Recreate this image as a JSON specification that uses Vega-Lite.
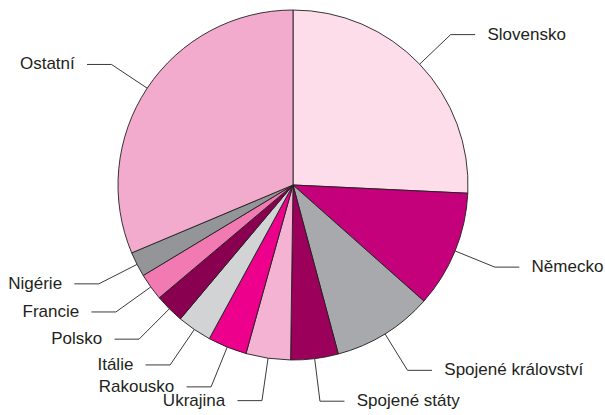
{
  "$schema": "https://vega.github.io/schema/vega-lite/v6.json",
  "width": 586,
  "height": 370,
  "autosize": {"type": "none"},
  "padding": {"left": 0, "top": 0, "right": 19, "bottom": 45},
  "background": "white",
  "config": {"view": {"stroke": null}},
  "data": {
    "values": [
      {"idx": 1, "country": "Slovensko", "value": 25.75},
      {"idx": 2, "country": "Německo", "value": 10.8},
      {"idx": 3, "country": "Spojené království", "value": 9.28},
      {"idx": 4, "country": "Spojené státy", "value": 4.39},
      {"idx": 5, "country": "Ukrajina", "value": 4.11},
      {"idx": 6, "country": "Rakousko", "value": 3.61},
      {"idx": 7, "country": "Itálie", "value": 3.19},
      {"idx": 8, "country": "Polsko", "value": 2.72},
      {"idx": 9, "country": "Francie", "value": 2.5},
      {"idx": 10, "country": "Nigérie", "value": 2.31},
      {"idx": 11, "country": "Ostatní", "value": 31.34}
    ]
  },
  "transform": [
    {"joinaggregate": [{"op": "sum", "field": "value", "as": "total"}]},
    {"window": [{"op": "sum", "field": "value", "as": "cum"}], "sort": [{"field": "idx", "order": "ascending"}], "frame": [null, 0]},
    {"calculate": "(datum.cum - datum.value / 2) / datum.total * 2 * PI", "as": "a"},
    {"calculate": "sin(datum.a)", "as": "sx"},
    {"calculate": "cos(datum.a)", "as": "sy"},
    {"calculate": "1.245 * sin(datum.a)", "as": "ex"},
    {"calculate": "1.245 * cos(datum.a)", "as": "ey"},
    {"calculate": "sin(datum.a) >= 0 ? 1 : -1", "as": "side"},
    {"calculate": "datum.ex + datum.side * 0.14", "as": "hx"},
    {"calculate": "datum.hx + datum.side * 0.07", "as": "tx"}
  ],
  "layer": [
    {
      "mark": {"type": "arc", "outerRadius": 175, "stroke": "#231f20", "strokeWidth": 0.9},
      "encoding": {
        "theta": {"field": "value", "type": "quantitative", "stack": true},
        "order": {"field": "idx", "type": "quantitative"},
        "color": {
          "field": "country",
          "type": "nominal",
          "legend": null,
          "scale": {
            "domain": ["Slovensko", "Německo", "Spojené království", "Spojené státy", "Ukrajina", "Rakousko", "Itálie", "Polsko", "Francie", "Nigérie", "Ostatní"],
            "range": ["#fcdde9", "#c4007a", "#a7a9ac", "#9b005a", "#f4b3d3", "#ec008c", "#d1d3d4", "#8a0050", "#f07ab1", "#939598", "#f3abcd"]
          }
        }
      }
    },
    {
      "mark": {"type": "rule", "color": "#3a3a3a", "strokeWidth": 1},
      "encoding": {
        "x": {"field": "sx", "type": "quantitative", "axis": null, "scale": {"domain": [-1.674286, 1.674286], "nice": false, "zero": false}},
        "y": {"field": "sy", "type": "quantitative", "axis": null, "scale": {"domain": [-1.057143, 1.057143], "nice": false, "zero": false}},
        "x2": {"field": "ex"},
        "y2": {"field": "ey"}
      }
    },
    {
      "mark": {"type": "rule", "color": "#3a3a3a", "strokeWidth": 1},
      "encoding": {
        "x": {"field": "ex", "type": "quantitative"},
        "y": {"field": "ey", "type": "quantitative"},
        "x2": {"field": "hx"}
      }
    },
    {
      "transform": [{"filter": "datum.side > 0"}],
      "mark": {"type": "text", "align": "left", "baseline": "middle", "font": "Liberation Sans", "fontSize": 17, "color": "#231f20"},
      "encoding": {
        "x": {"field": "tx", "type": "quantitative"},
        "y": {"field": "ey", "type": "quantitative"},
        "text": {"field": "country"}
      }
    },
    {
      "transform": [{"filter": "datum.side < 0"}],
      "mark": {"type": "text", "align": "right", "baseline": "middle", "font": "Liberation Sans", "fontSize": 17, "color": "#231f20"},
      "encoding": {
        "x": {"field": "tx", "type": "quantitative"},
        "y": {"field": "ey", "type": "quantitative"},
        "text": {"field": "country"}
      }
    }
  ]
}
